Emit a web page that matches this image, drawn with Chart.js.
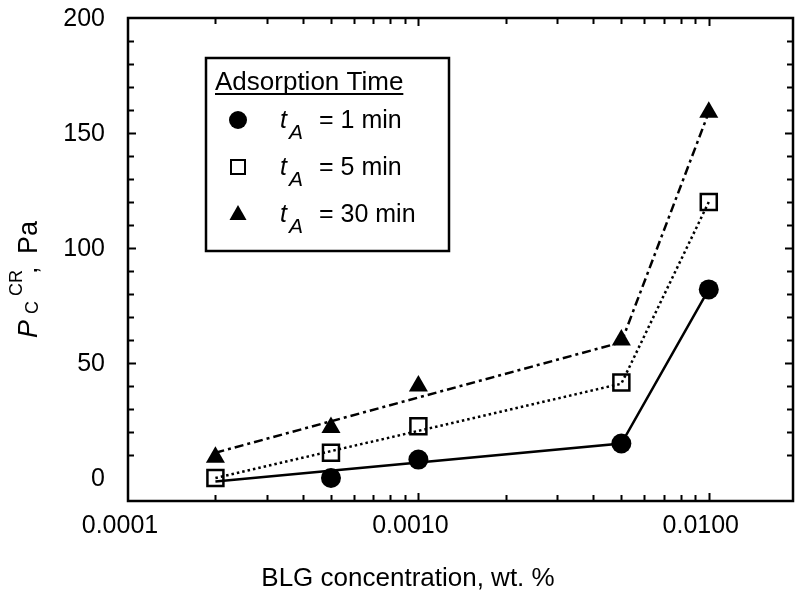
<!DOCTYPE html>
<html>
<head>
<meta charset="utf-8">
<script src="https://cdn.jsdelivr.net/npm/chart.js@4/dist/chart.umd.min.js"></script>
<style>
  html, body { margin: 0; padding: 0; background: #fff; }
</style>
</head>
<body>
<canvas id="myChart" width="795" height="596"></canvas>
<script>
var concentration = [0.0002, 0.0005, 0.001, 0.005, 0.01];
var pc1min = [null, 0, 8, 15, 82];
var pc5min = [0, 11, 22.5, 41.5, 120];
var pc30min = [9, 22, 40, 60, 159];

// the straight guide lines of the figure
var fitConc = [0.0002, 0.005, 0.01];
var fit1min = [-1.5, 15, 82];
var fit5min = [0, 41, 120];
var fit30min = [11, 59, 159];

var xTicks = [0.0001, 0.001, 0.01];
var xTickLabels = ['0.0001', '0.0010', '0.0100'];
var yTicks = [0, 50, 100, 150, 200];
var legendTimes = ['= 1 min', '= 5 min', '= 30 min'];

var FONT = '"Liberation Sans", Arial, sans-serif';
Chart.defaults.font.family = FONT;
Chart.defaults.color = '#000';

function toPoints(xs, ys) {
  var out = [];
  for (var i = 0; i < xs.length; i++) {
    if (ys[i] !== null) out.push({ x: xs[i], y: ys[i] });
  }
  return out;
}

// frame, inward ticks, tick labels, axis titles and the boxed legend
var decorPlugin = {
  id: 'decor',
  afterDraw: function(chart) {
    var ctx = chart.ctx,
        area = chart.chartArea,
        xs = chart.scales.x,
        ys = chart.scales.y;

    ctx.save();
    ctx.strokeStyle = '#000';
    ctx.lineWidth = 2.5;
    ctx.strokeRect(area.left, area.top, area.right - area.left, area.bottom - area.top);

    ctx.lineWidth = 2;
    ctx.beginPath();
    // y ticks, every 10, longer at labelled values
    for (var v = 10; v < 200; v += 10) {
      var py = Math.round(ys.getPixelForValue(v)) + 0.5;
      var len = (v % 50 === 0) ? 8 : 6;
      ctx.moveTo(area.left, py); ctx.lineTo(area.left + len, py);
      ctx.moveTo(area.right, py); ctx.lineTo(area.right - len, py);
    }
    // x ticks, 1..9 per decade
    [0.0001, 0.001, 0.01].forEach(function(dec) {
      for (var m = 1; m <= 9; m++) {
        var val = dec * m;
        if (val <= 0.0001 || val > 0.0195) continue;
        var px = Math.round(xs.getPixelForValue(val)) + 0.5;
        var l = (m === 1) ? 8 : 6;
        ctx.moveTo(px, area.bottom); ctx.lineTo(px, area.bottom - l);
        ctx.moveTo(px, area.top); ctx.lineTo(px, area.top + l);
      }
    });
    ctx.stroke();

    ctx.fillStyle = '#000';
    ctx.font = '25px ' + FONT;

    // tick labels
    ctx.textAlign = 'right';
    ctx.textBaseline = 'middle';
    yTicks.forEach(function(t) {
      ctx.fillText(String(t), area.left - 23, ys.getPixelForValue(t) + 1);
    });
    ctx.textAlign = 'center';
    ctx.textBaseline = 'alphabetic';
    xTicks.forEach(function(t, i) {
      ctx.fillText(xTickLabels[i], xs.getPixelForValue(t) - 8, area.bottom + 32);
    });

    // x title
    ctx.font = '26px ' + FONT;
    ctx.fillText('BLG concentration, wt. %', 408, 586);

    // y title, rotated
    ctx.save();
    ctx.translate(37, 338);
    ctx.rotate(-Math.PI / 2);
    ctx.textAlign = 'left';
    ctx.font = 'italic 27px ' + FONT;
    ctx.fillText('P', 0, 0);
    ctx.font = '18px ' + FONT;
    ctx.fillText('C', 24, 1);
    ctx.fillText('CR', 42, -15);
    ctx.font = '27px ' + FONT;
    ctx.fillText(',', 64, 0);
    ctx.fillText('Pa', 84, 0);
    ctx.restore();

    // legend box
    ctx.lineWidth = 2.5;
    ctx.strokeRect(206, 58, 243, 193);
    ctx.textAlign = 'left';
    ctx.font = '26px ' + FONT;
    var title = 'Adsorption Time';
    ctx.fillText(title, 215, 90);
    ctx.lineWidth = 2;
    ctx.beginPath();
    ctx.moveTo(215, 94); ctx.lineTo(215 + ctx.measureText(title).width, 94);
    ctx.stroke();

    var rows = [128, 175, 222];
    rows.forEach(function(base, i) {
      var cx = 238, cy = base - 8;
      ctx.lineWidth = 2;
      ctx.beginPath();
      if (i === 0) {
        ctx.arc(cx, cy, 9, 0, Math.PI * 2);
        ctx.fill();
      } else if (i === 1) {
        ctx.strokeRect(cx - 7, cy - 7, 14, 14);
      } else {
        ctx.moveTo(cx, cy - 9);
        ctx.lineTo(cx + 8.5, cy + 6);
        ctx.lineTo(cx - 8.5, cy + 6);
        ctx.closePath();
        ctx.fill();
      }
      ctx.font = 'italic 25px ' + FONT;
      ctx.fillText('t', 280, base);
      ctx.font = 'italic 21px ' + FONT;
      ctx.fillText('A', 289, base + 11);
      ctx.font = '25px ' + FONT;
      ctx.fillText(legendTimes[i], 319, base);
    });
    ctx.restore();
  }
};

var ctx = document.getElementById('myChart').getContext('2d');
var chart = new Chart(ctx, {
  type: 'scatter',
  data: {
    datasets: [
      {
        label: 'fit 1 min',
        data: toPoints(fitConc, fit1min),
        showLine: true, borderColor: '#000', borderWidth: 2.5,
        pointRadius: 0, order: 0
      },
      {
        label: 'fit 5 min',
        data: toPoints(fitConc, fit5min),
        showLine: true, borderColor: '#000', borderWidth: 2.5,
        borderDash: [2.5, 3], pointRadius: 0, order: 0
      },
      {
        label: 'fit 30 min',
        data: toPoints(fitConc, fit30min),
        showLine: true, borderColor: '#000', borderWidth: 2.5,
        borderDash: [9, 4, 3, 4], pointRadius: 0, order: 0
      },
      {
        label: 'tA = 1 min',
        data: toPoints(concentration, pc1min),
        pointStyle: 'circle', pointRadius: 10,
        backgroundColor: '#000', borderColor: '#000', borderWidth: 0, order: 1
      },
      {
        label: 'tA = 5 min',
        data: toPoints(concentration, pc5min),
        pointStyle: 'rect', pointRadius: 11.3,
        backgroundColor: '#fff', borderColor: '#000', borderWidth: 2.5, order: 1
      },
      {
        label: 'tA = 30 min',
        data: toPoints(concentration, pc30min),
        pointStyle: 'triangle', pointRadius: 11,
        backgroundColor: '#000', borderColor: '#000', borderWidth: 0, order: 1
      }
    ]
  },
  options: {
    responsive: false,
    animation: false,
    devicePixelRatio: 1,
    layout: { autoPadding: false, padding: { top: 18, right: 2, left: 0, bottom: 0 } },
    plugins: { legend: { display: false }, tooltip: { enabled: false } },
    scales: {
      x: {
        type: 'logarithmic',
        min: 0.0001,
        max: 0.0195,
        afterBuildTicks: function(s) { s.ticks = xTicks.map(function(v) { return { value: v }; }); },
        afterFit: function(s) { s.height = 95; },
        grid: { display: false, drawTicks: false },
        border: { display: false },
        ticks: { display: false }
      },
      y: {
        min: -10,
        max: 200,
        afterBuildTicks: function(s) { s.ticks = yTicks.map(function(v) { return { value: v }; }); },
        afterFit: function(s) { s.width = 128; },
        grid: { display: false, drawTicks: false },
        border: { display: false },
        ticks: { display: false }
      }
    }
  },
  plugins: [decorPlugin]
});
</script>
</body>
</html>
